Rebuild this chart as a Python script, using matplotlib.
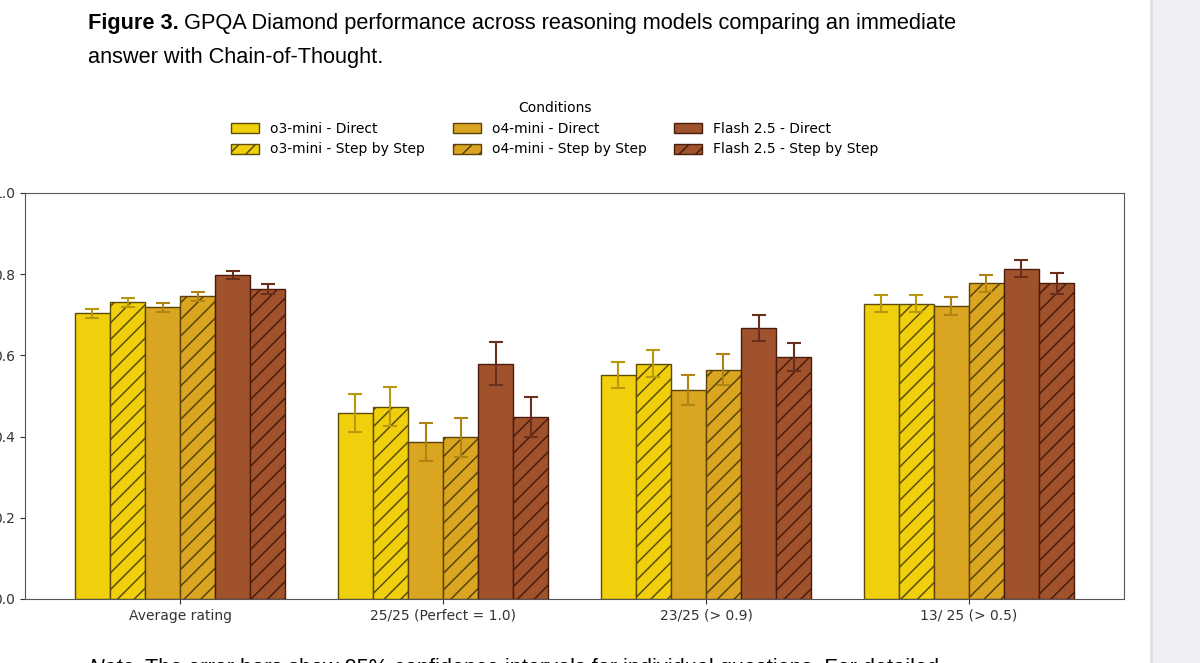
import numpy as np
import matplotlib
matplotlib.use('Agg')
from matplotlib import pyplot as plt
from matplotlib.patches import Rectangle, Patch

# Data
categories = ['Average rating', '25/25 (Perfect = 1.0)', '23/25 (> 0.9)', '13/ 25 (> 0.5)']
conditions = ['o3-mini - Direct', 'o3-mini - Step by Step',
              'o4-mini - Direct', 'o4-mini - Step by Step',
              'Flash 2.5 - Direct', 'Flash 2.5 - Step by Step']
means = [
    [0.704, 0.459, 0.551, 0.727],
    [0.731, 0.474, 0.580, 0.727],
    [0.718, 0.386, 0.515, 0.722],
    [0.746, 0.398, 0.565, 0.778],
    [0.797, 0.580, 0.667, 0.814],
    [0.764, 0.448, 0.596, 0.778],
]
errors = [
    [0.011, 0.047, 0.032, 0.021],
    [0.011, 0.048, 0.034, 0.021],
    [0.011, 0.047, 0.036, 0.023],
    [0.011, 0.049, 0.038, 0.021],
    [0.010, 0.053, 0.032, 0.021],
    [0.012, 0.049, 0.034, 0.026],
]

fill_colors = ['#f0d00c', '#f0d00c', '#daa520', '#daa520', '#a0522d', '#a0522d']
edge_colors = ['#5c4c05', '#5c4c05', '#5a4208', '#5a4208', '#4a1c0c', '#4a1c0c']
err_colors = ['#b8980c', '#b8980c', '#b08412', '#b08412', '#6b2e1a', '#6b2e1a']
hatches = ['', '//', '', '//', '', '//']

plt.rcParams['hatch.linewidth'] = 1.1

fig = plt.figure(figsize=(12, 6.63), dpi=100)
ax = fig.add_axes([25 / 1200, 64 / 663, 1099 / 1200, 406 / 663])

x = np.arange(len(categories))
width = 0.8 / len(conditions)
for i, cond in enumerate(conditions):
    pos = x + (i - 2.5) * width
    ax.bar(pos, means[i], width, color=fill_colors[i], edgecolor=edge_colors[i],
           hatch=hatches[i], linewidth=1.0, label=cond)
    ax.errorbar(pos, means[i], yerr=errors[i], fmt='none', ecolor=err_colors[i],
                elinewidth=1.5, capsize=5, capthick=1.5)

ax.set_ylim(0, 1.0)
ax.set_xticks(x)
ax.set_xticklabels(categories, fontsize=10)
ax.tick_params(axis='y', labelsize=10)
for s in ax.spines.values():
    s.set_color('#555555')
ax.tick_params(colors='#333333')

handles = [Patch(facecolor=fill_colors[i], edgecolor=edge_colors[i], hatch=hatches[i])
           for i in range(len(conditions))]
fig.legend(handles, conditions, title='Conditions', ncol=3, frameon=False,
           loc='lower center', bbox_to_anchor=(555 / 1200, 494 / 663),
           fontsize=10, title_fontsize=10, columnspacing=2.0)

# caption text of the page
r = fig.canvas.get_renderer()
t1 = fig.text(88 / 1200, 1 - 29 / 663, 'Figure 3.', fontsize=15.65, fontweight='bold',
              family='Liberation Sans', va='baseline')
bb = t1.get_window_extent(renderer=r)
fig.text((bb.x1 + 5) / 1200, 1 - 29 / 663,
         'GPQA Diamond performance across reasoning models comparing an immediate',
         fontsize=15.65, family='Liberation Sans', va='baseline')
fig.text(88 / 1200, 1 - 63 / 663, 'answer with Chain-of-Thought.',
         fontsize=15.65, family='Liberation Sans', va='baseline')

# note (cut off at the bottom of the screenshot)
t2 = fig.text(88 / 1200, 1 - 674 / 663, 'Note.', fontsize=15.65, style='italic',
              family='Liberation Sans', va='baseline')
bb = t2.get_window_extent(renderer=r)
fig.text((bb.x1 + 5) / 1200, 1 - 674 / 663,
         'The error bars show 95% confidence intervals for individual questions. For detailed',
         fontsize=15.65, family='Liberation Sans', va='baseline')

# grey page margin on the right
fig.patches.append(Rectangle((1152 / 1200, 0), 48 / 1200, 1, transform=fig.transFigure,
                             facecolor='#efeff5', edgecolor='none', zorder=5))
fig.patches.append(Rectangle((1150 / 1200, 0), 3 / 1200, 1, transform=fig.transFigure,
                             facecolor='#e0e0e6', edgecolor='none', zorder=5))

fig.savefig('out.png', dpi=100)
